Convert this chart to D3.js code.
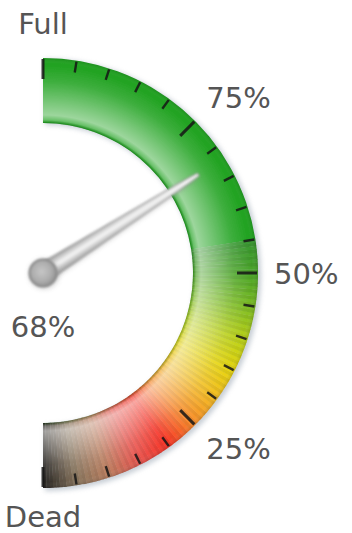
<!DOCTYPE html>
<html>
<head>
<meta charset="utf-8">
<script src="https://cdn.jsdelivr.net/npm/d3@7"></script>
<style>
  html, body { margin: 0; padding: 0; background: #fff; }
  svg { display: block; }
  text { font-family: "DejaVu Sans", Verdana, sans-serif; font-size: 29px; fill: #555; }
</style>
</head>
<body>
<svg id="gauge" width="352" height="533"></svg>
<script>
// Battery gauge: value and scale
const gaugeValue = 68;
const scaleMin = 0, scaleMax = 100;
const tickValues = d3.range(0, 101, 5);
const majorTickValues = [0, 25, 50, 75, 100];
const scaleLabelValues = [25, 50, 75];
const scaleLabelTexts = ["25%", "50%", "75%"];
const endLabelValues = [100, 0];
const endLabelTexts = ["Full", "Dead"];

// Solid green zone above, striped colour ramp below
const greenZoneFrom = 55;
const greenColor = "#20a220";
const rampStops = [55, 50, 45, 40, 35, 30, 25, 20, 15, 10, 5, 0];
const rampColors = ["#34902e", "#479e26", "#76b422", "#b0c818", "#dccd0e", "#eab522",
                    "#ef882a", "#ee3226", "#e0544e", "#b47a5c", "#82705a", "#242220"];
const stripeStep = 0.5;

const W = 352, H = 533;
const cx = 43, cy = 273;
const rOuter = 215, rInner = 150;

const svg = d3.select("#gauge");
const defs = svg.append("defs");

// angle scale: 100 at 12 o'clock, 0 at 6 o'clock (clockwise radians)
const angle = d3.scaleLinear().domain([scaleMin, scaleMax]).range([Math.PI, 0]);
const rampColor = d3.scaleLinear().domain(rampStops).range(rampColors).interpolate(d3.interpolateRgb);

const arc = d3.arc();
const g = svg.append("g").attr("transform", `translate(${cx},${cy})`);

// glossy overlay across the band width
const gloss = defs.append("radialGradient").attr("id", "gloss")
  .attr("gradientUnits", "userSpaceOnUse").attr("cx", 0).attr("cy", 0).attr("r", rOuter);
[[rInner / rOuter, "#004000", 0.28],
 [(rInner + 3) / rOuter, "#ffffff", 0.32],
 [(rInner + 8) / rOuter, "#ffffff", 0.56],
 [(rInner + 22) / rOuter, "#ffffff", 0.38],
 [(rInner + 42) / rOuter, "#ffffff", 0.13],
 [(rOuter - 6) / rOuter, "#ffffff", 0.0],
 [1, "#000000", 0.12]].forEach(([o, c, a]) =>
  gloss.append("stop").attr("offset", o).attr("stop-color", c).attr("stop-opacity", a));

const shadow = defs.append("filter").attr("id", "shadow")
  .attr("x", "-20%").attr("y", "-20%").attr("width", "140%").attr("height", "140%");
shadow.append("feGaussianBlur").attr("stdDeviation", 2.5);

const soft = defs.append("filter").attr("id", "soft");
soft.append("feGaussianBlur").attr("stdDeviation", 0.6);

const blurNeedle = defs.append("filter").attr("id", "blurNeedle")
  .attr("x", "-50%").attr("y", "-10%").attr("width", "200%").attr("height", "120%");
blurNeedle.append("feGaussianBlur").attr("stdDeviation", 1.2);

// band shadow
g.append("path")
  .attr("d", arc({innerRadius: rInner, outerRadius: rOuter + 1,
                  startAngle: angle(scaleMax), endAngle: angle(scaleMin)}))
  .attr("transform", "translate(2,2)")
  .attr("fill", "#9aa6b4").attr("opacity", 0.55).attr("filter", "url(#shadow)");

const band = g.append("g").attr("filter", "url(#soft)");

// solid green zone
band.append("path")
  .attr("d", arc({innerRadius: rInner, outerRadius: rOuter,
                  startAngle: angle(scaleMax), endAngle: angle(greenZoneFrom)}))
  .attr("fill", greenColor);

// striped ramp zone
const stripes = d3.range(scaleMin, greenZoneFrom, stripeStep);
band.selectAll("path.stripe").data(stripes).join("path")
  .attr("class", "stripe")
  .attr("d", v => arc({innerRadius: rInner, outerRadius: rOuter,
                       startAngle: angle(v + stripeStep) - 0.002, endAngle: angle(v)}))
  .attr("fill", (v, i) => {
    const c = d3.color(rampColor(v + stripeStep / 2));
    return i % 2 ? c.brighter(0.12) : c.darker(0.06);
  });

// gloss over whole band
band.append("path")
  .attr("d", arc({innerRadius: rInner, outerRadius: rOuter,
                  startAngle: angle(scaleMax), endAngle: angle(scaleMin)}))
  .attr("fill", "url(#gloss)");

// ticks
g.selectAll("line.tick").data(tickValues).join("line")
  .attr("class", "tick")
  .attr("x1", v => (rOuter - 1) * Math.sin(angle(v)))
  .attr("y1", v => -(rOuter - 1) * Math.cos(angle(v)))
  .attr("x2", v => (rOuter - (majorTickValues.includes(v) ? 21 : 12)) * Math.sin(angle(v)))
  .attr("y2", v => -(rOuter - (majorTickValues.includes(v) ? 21 : 12)) * Math.cos(angle(v)))
  .attr("stroke", "#151515").attr("stroke-opacity", 0.85)
  .attr("stroke-width", v => majorTickValues.includes(v) ? 3 : 2.4);

// scale labels
const labelRx = 231, labelRy = 248;
g.selectAll("text.scale").data(scaleLabelValues).join("text")
  .attr("class", "scale")
  .attr("x", v => labelRx * Math.sin(angle(v)))
  .attr("y", v => -labelRy * Math.cos(angle(v)))
  .attr("dy", "0.37em")
  .text((v, i) => scaleLabelTexts[i]);

g.selectAll("text.end").data(endLabelValues).join("text")
  .attr("class", "end")
  .attr("x", 0)
  .attr("y", v => -labelRy * Math.cos(angle(v)) + (v === scaleMax ? -2 : -5))
  .attr("dy", "0.37em")
  .attr("text-anchor", "middle")
  .text((v, i) => endLabelTexts[i]);

// needle
const needleLen = 184;
const needleGrad = defs.append("linearGradient").attr("id", "needleGrad")
  .attr("x1", 0).attr("x2", 1).attr("y1", 0).attr("y2", 0);
[[0, "#959595"], [0.28, "#cfcfcf"], [0.5, "#f8f8f8"], [0.72, "#cacaca"], [1, "#909090"]]
  .forEach(([o, c]) => needleGrad.append("stop").attr("offset", o).attr("stop-color", c));

const hubGrad = defs.append("radialGradient").attr("id", "hubGrad")
  .attr("cx", 0.45).attr("cy", 0.45).attr("r", 0.6);
[[0, "#c6c6c6"], [0.6, "#adadad"], [1, "#8c8c8c"]]
  .forEach(([o, c]) => hubGrad.append("stop").attr("offset", o).attr("stop-color", c));

const needlePath = `M-9.5,0 L-3,${-needleLen + 22} L-1.6,${-needleLen} L1.6,${-needleLen} L3,${-needleLen + 22} L9.5,0 Z`;
const needle = g.append("g")
  .attr("transform", `rotate(${angle(gaugeValue) * 180 / Math.PI})`);
needle.append("path").attr("d", needlePath)
  .attr("transform", "translate(1.5,1.5)")
  .attr("fill", "#888").attr("opacity", 0.4).attr("filter", "url(#shadow)");
needle.append("path").attr("d", needlePath)
  .attr("fill", "url(#needleGrad)")
  .attr("stroke", "#949494").attr("stroke-width", 1).attr("filter", "url(#blurNeedle)");

g.append("circle").attr("r", 15).attr("cx", 1).attr("cy", 1)
  .attr("fill", "#999").attr("opacity", 0.45).attr("filter", "url(#shadow)");
g.append("circle").attr("r", 13.5)
  .attr("fill", "url(#hubGrad)").attr("stroke", "#8c8c8c").attr("stroke-width", 2)
  .attr("filter", "url(#blurNeedle)");

// value readout
g.append("text")
  .attr("x", 0).attr("y", 53).attr("dy", "0.37em")
  .attr("text-anchor", "middle")
  .text(`${gaugeValue}%`);
</script>
</body>
</html>
